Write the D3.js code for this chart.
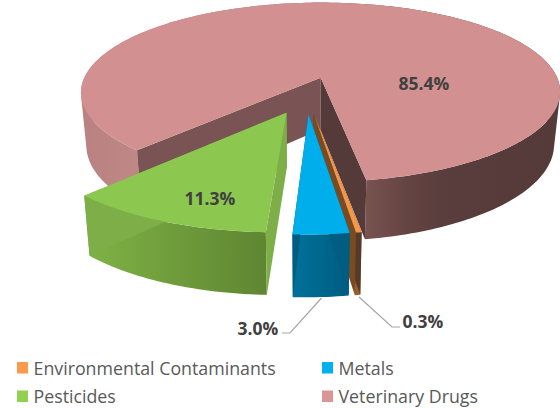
<!DOCTYPE html>
<html><head><meta charset="utf-8">
<script src="https://cdnjs.cloudflare.com/ajax/libs/d3/7.8.5/d3.min.js"></script>
<style>html,body{margin:0;background:#fff}svg{display:block}</style></head>
<body><svg id="c" width="560" height="408"></svg>
<script>
const categories = ["Environmental Contaminants", "Metals", "Pesticides", "Veterinary Drugs"];
const shares = [0.3, 3.0, 11.3, 85.4];

const topColors = ["#f79646", "#00aeeb", "#8cc850", "#d39090"];
const swatches = ["#fb9a4c", "#00b0f0", "#92d050", "#d99694"];
const wallStops = [
  [[0, "#8a5526"], [1, "#a5652c"]],
  [[0, "#007199"], [1, "#005c80"]],
  [[0, "#7eb245"], [1, "#5f8531"]],
  [[0, "#b98280"], [.12, "#bf8886"], [.6, "#77524f"], [.68, "#644442"], [.75, "#5a3d3d"], [1, "#553a3a"]]
];
const wallBand = [[350, 362], [293, 350], [88, 267], [81, 560]];
const radialColors = [["#553a2a", "#7a4a20"], ["#005c80", "#005c80"], ["#7dae48", "#7dae48"], ["#7a5454", "#553a3a"]];

const svg = d3.select("#c");
const defs = svg.append("defs");

// tilted, perspective view of the pie plane
const k = .167, sx = 244, sy = 93, ox = 306.5, oy = 95, skew = -3.5, explode = .2, inset = .976;
const top3d = (u, v) => { const d = 1 - k * v; return [ox + (sx * u + skew * v) / d, oy + sy * v / d]; };
const low3d = (u, v) => { const p = top3d(u, v); return [ox + (p[0] - ox) * inset, p[1] + 53 / (1 - .13 * v)]; };

const pieGen = d3.pie().sort(null).startAngle(170.4 * Math.PI / 180).endAngle(530.4 * Math.PI / 180);
const arcs = pieGen(shares);
const line = d3.line();

const geom = arcs.map(a => {
  const mid = (a.startAngle + a.endAngle) / 2;
  const cu = explode * Math.sin(mid), cv = -explode * Math.cos(mid);
  const n = Math.max(2, Math.ceil((a.endAngle - a.startAngle) / .02));
  const pts = d3.range(n + 1).map(i => {
    const t = a.startAngle + (a.endAngle - a.startAngle) * i / n;
    return [cu + Math.sin(t), cv - Math.cos(t)];
  });
  return { mid, cu, cv, pts };
});

// draw order, back to front
[3, 0, 1, 2].forEach(i => {
  const g = geom[i], id = "wall" + i;
  const grad = defs.append("linearGradient").attr("id", id).attr("gradientUnits", "userSpaceOnUse")
    .attr("x1", wallBand[i][0]).attr("x2", wallBand[i][1]).attr("y1", 0).attr("y2", 0);
  wallStops[i].forEach(s => grad.append("stop").attr("offset", s[0]).attr("stop-color", s[1]));

  const first = g.pts[0], last = g.pts[g.pts.length - 1];
  const g3 = svg.append("g");

  // outer wall: one path of same-wound quads, so the silhouette stays straight with no seams
  const wallPath = d3.range(g.pts.length - 1).map(j => {
    const a = g.pts[j], b = g.pts[j + 1];
    const q = [top3d(...a), top3d(...b), low3d(...b), low3d(...a)];
    if (d3.polygonArea(q) < 0) q.reverse();
    return line(q) + "Z";
  }).join("");
  g3.append("path").attr("d", wallPath).attr("fill", "url(#" + id + ")").attr("fill-rule", "nonzero");

  const face = (a, b, col) => g3.append("path")
    .attr("d", line([top3d(...a), top3d(...b), low3d(...b), low3d(...a)]) + "Z")
    .attr("fill", col);
  face([g.cu, g.cv], first, radialColors[i][0]);
  face([g.cu, g.cv], last, radialColors[i][1]);

  g3.append("path")
    .attr("d", line([top3d(g.cu, g.cv)].concat(g.pts.map(p => top3d(...p)))) + "Z")
    .attr("fill", topColors[i]);
});

// leader lines
const leaders = [[[359, 297], [392, 327], [400, 327]], [[321.5, 298], [290, 333], [282, 333]]];
leaders.forEach(l => svg.append("path").attr("d", line(l)).attr("fill", "none").attr("stroke", "#a6a6a6").attr("stroke-width", 1.2));

// value labels
const labelAt = [[423, 321], [258, 328], [210, 198], [424, 83]];
const fmt = d => d.toFixed(1) + "%";
svg.selectAll("text.v").data(shares).join("text").attr("class", "v")
  .attr("x", (d, i) => labelAt[i][0]).attr("y", (d, i) => labelAt[i][1])
  .attr("text-anchor", "middle").attr("dominant-baseline", "central")
  .attr("font-family", "'Open Sans'").attr("font-weight", 700).attr("font-size", 17.5)
  .attr("fill", "#404040").text(fmt);

// legend
const legX = d3.scaleOrdinal().domain([0, 1]).range([17, 322]);
const legY = d3.scaleOrdinal().domain([0, 1]).range([367.5, 396]);
const leg = svg.selectAll("g.l").data(categories).join("g").attr("class", "l")
  .attr("transform", (d, i) => `translate(${legX(i % 2)},${legY(Math.floor(i / 2))})`);
leg.append("rect").attr("x", 0).attr("y", -5.5).attr("width", 11).attr("height", 11.5).attr("fill", (d, i) => swatches[i]);
leg.append("text").attr("x", 16.5).attr("y", 0).attr("dominant-baseline", "central")
  .attr("font-family", "'Open Sans'").attr("font-size", 17.8).attr("fill", "#595959").text(d => d);
</script></body></html>
